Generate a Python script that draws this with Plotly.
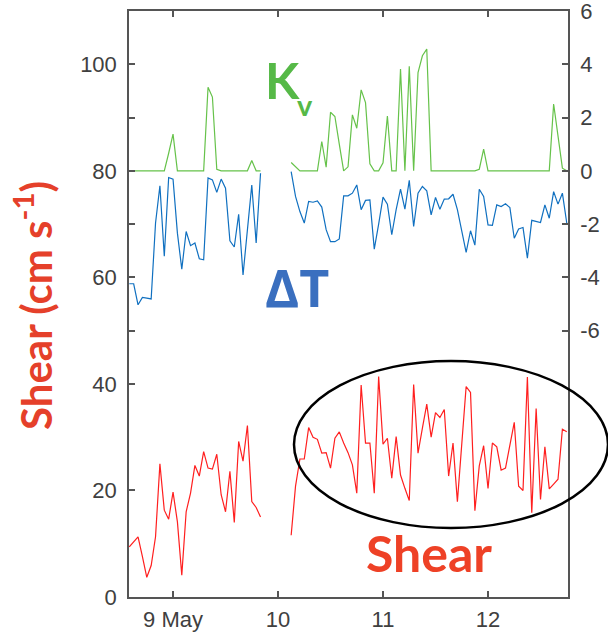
import plotly.graph_objects as go
import pandas as pd

# ---- data (hourly samples, 8 May 14:00 -> 12 May 18:00) ----
start_time = "2015-05-08 14:00"
n_gap = 6  # missing hours between the two records

shear_part1 = [9.4, 10.4, 11.3, 7.6, 3.7, 5.9, 11.3, 25.0, 16.3, 14.6, 19.7, 14.1, 4.1, 16.0, 19.5,
               24.7, 22.7, 27.3, 24.2, 24.0, 26.8, 19.2, 16.0, 23.6, 14.0, 29.2, 25.5, 32.2, 17.9, 16.8, 15.0]
shear_part2 = [11.6, 20.8, 25.9, 25.9, 31.8, 30.0, 29.6, 27.0, 27.1, 24.2, 29.8, 31.0, 28.9, 27.1, 24.8,
               19.5, 39.8, 28.9, 28.9, 19.5, 41.4, 28.7, 29.8, 22.3, 30.1, 22.9, 20.4, 18.1, 39.9, 27.0,
               31.7, 36.2, 30.0, 34.6, 33.7, 35.2, 22.7, 28.9, 17.9, 29.2, 39.5, 38.4, 16.2, 24.6, 28.4,
               20.4, 28.9, 28.2, 23.8, 24.2, 28.5, 32.8, 20.8, 20.0, 41.3, 15.8, 35.4, 18.3, 28.2, 20.3,
               21.2, 22.1, 31.5, 31.0]

dT_part1 = [-4.24, -4.24, -5.03, -4.75, -4.78, -4.81, -1.96, -0.56, -3.21, -0.25, -0.31, -2.34, -3.69,
            -2.28, -2.81, -2.71, -3.30, -3.34, -0.27, -0.34, -0.81, -0.31, -0.65, -2.63, -2.86, -1.63,
            -3.91, -2.09, -0.53, -2.71, -0.09]
dT_part2 = [-0.03, -0.96, -1.53, -1.96, -1.15, -1.18, -1.13, -1.36, -2.21, -2.66, -2.66, -2.56, -0.94,
            -0.94, -0.84, -0.53, -1.46, -1.11, -1.09, -2.94, -2.00, -0.99, -1.25, -2.40, -1.46, -0.69,
            -1.44, -0.36, -2.09, -0.84, -0.59, -0.75, -1.65, -1.00, -1.44, -1.06, -1.05, -0.88, -1.46,
            -2.28, -3.06, -2.25, -2.79, -0.69, -0.96, -2.03, -2.05, -1.28, -1.34, -1.24, -1.38, -2.53,
            -2.18, -2.13, -3.28, -1.86, -1.90, -1.94, -1.28, -1.78, -0.78, -1.25, -0.84, -1.96]

kv_part1 = [0, 0, 0, 0, 0, 0, 0, 0, 0, 0.66, 1.38, 0, 0, 0, 0, 0, 0, 0, 3.14, 2.77, 0.06, 0, 0, 0, 0,
            0, 0, 0, 0.39, 0, 0]
kv_part2 = [0.31, 0.14, 0, 0, 0, 0, 0, 1.10, 0.14, 2.20, 2.04, 1.00, 0, 0.15, 2.10, 1.60, 3.04, 2.56,
            0.26, 0, 0, 0.30, 2.06, 0, 0, 3.82, 0, 3.92, 0, 3.69, 4.32, 4.57, 0, 0, 0, 0, 0, 0, 0, 0,
            0, 0, 0, 0.06, 0.81, 0, 0, 0, 0, 0, 0, 0, 0, 0, 0, 0, 0, 0, 0, 0, 2.51, 1.30, 0.10, 0]

x_tick_dates = ["2015-05-09", "2015-05-10", "2015-05-11", "2015-05-12"]
x_tick_text = ["9 May", "10", "11", "12"]
x_range = ["2015-05-08 13:56", "2015-05-12 18:17"]
left_ticks = [0, 20, 40, 60, 80, 100]
right_ticks = [-6, -4, -2, 0, 2, 4, 6]
right_tick_text = ["-6", "-4", "-2", "0", "2", "4", "6"]

gap = [None] * n_gap
shear = shear_part1 + gap + shear_part2
dT = dT_part1 + gap + dT_part2
kv = kv_part1 + gap + kv_part2
times = pd.date_range(start_time, periods=len(shear), freq="h")

# ---- styling ----
AX = "#555555"
TICKFONT = dict(family="Liberation Sans, Arial, sans-serif", size=22, color="#404040")
RED_LINE = "#ff1f1f"
BLUE_LINE = "#1070c0"
GREEN_LINE = "#66c24a"

fig = go.Figure()
fig.add_trace(go.Scatter(x=times, y=kv, yaxis="y2", mode="lines",
                         line=dict(color=GREEN_LINE, width=1.2), showlegend=False))
fig.add_trace(go.Scatter(x=times, y=dT, yaxis="y2", mode="lines",
                         line=dict(color=BLUE_LINE, width=1.2), showlegend=False))
fig.add_trace(go.Scatter(x=times, y=shear, yaxis="y", mode="lines",
                         line=dict(color=RED_LINE, width=1.2), showlegend=False))

fig.update_layout(
    width=608, height=636,
    margin=dict(l=129, r=40, t=11, b=39, autoexpand=False),
    paper_bgcolor="white", plot_bgcolor="white",
    xaxis=dict(type="date", range=x_range, tickvals=x_tick_dates, ticktext=x_tick_text,
               showline=True, linecolor=AX, linewidth=1.5, mirror="ticks",
               ticks="inside", ticklen=6, tickcolor=AX, tickwidth=1.5, automargin=False,
               showgrid=False, zeroline=False, tickfont=TICKFONT, ticklabelstandoff=2,
               ticklabeloverflow="allow"),
    yaxis=dict(range=[0, 110], tickvals=left_ticks, showline=True, linecolor=AX, linewidth=1.5,
               ticks="inside", ticklen=6, tickcolor=AX, tickwidth=1.5, automargin=False,
               showgrid=False, zeroline=False, tickfont=TICKFONT, ticklabelstandoff=6,
               ticklabeloverflow="allow"),
    yaxis2=dict(range=[-16, 6], overlaying="y", side="right", tickvals=right_ticks,
                ticktext=right_tick_text, showline=True, linecolor=AX, linewidth=1.5,
                mirror="ticks", ticks="inside", ticklen=6, tickcolor=AX, tickwidth=1.5,
                automargin=False, showgrid=False, zeroline=False, tickfont=TICKFONT,
                ticklabelstandoff=6, ticklabeloverflow="allow"),
)

# ---- labels ----
W_PLOT = 608 - 129 - 40
H_PLOT = 636 - 11 - 39


def px(xp):
    return (xp - 129) / W_PLOT


def py(yp):
    return (597 - yp) / H_PLOT


ann = dict(xref="paper", yref="paper", showarrow=False, xanchor="center", yanchor="middle")
fig.add_annotation(**ann, x=px(282), y=py(80), text="<b>K</b>",
                   font=dict(family="Lato, Open Sans, sans-serif", size=50, color="#56b947"))
fig.add_annotation(**ann, x=px(305), y=py(104), text="<b>v</b>",
                   font=dict(family="Lato, Open Sans, sans-serif", size=29, color="#56b947"))
fig.add_annotation(**ann, x=px(297), y=py(286), text="<b>ΔT</b>",
                   font=dict(family="Open Sans, sans-serif", size=52, color="#3a6fbf"))
fig.add_annotation(**ann, x=px(429), y=py(553), text="<b>Shear</b>",
                   font=dict(family="Lato, Open Sans, sans-serif", size=50, color="#ee4126"))
fig.add_annotation(**ann, x=px(33), y=py(306), textangle=-90,
                   text="<b>Shear (cm s<sup>-1</sup>)</b>",
                   font=dict(family="Lato, Open Sans, sans-serif", size=42, color="#e5402a"))

# ellipse around the second shear record
fig.add_shape(type="circle", xref="paper", yref="paper",
              x0=px(294), x1=px(608), y0=py(528), y1=py(361),
              line=dict(color="black", width=2.5))

fig.write_html("out.html")
